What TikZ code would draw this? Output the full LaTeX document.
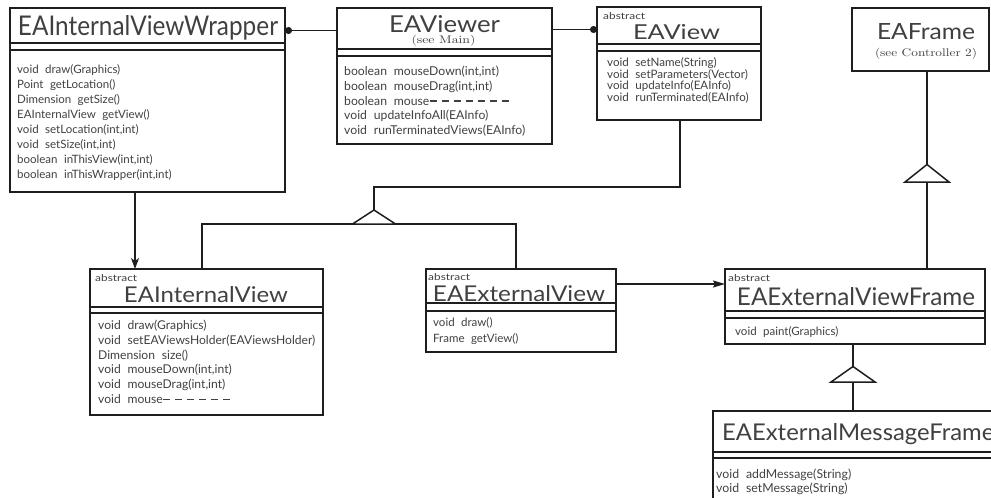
\documentclass[tikz,border=0pt]{standalone}
\usepackage{fontspec}
\newfontfamily\umlfont{Lato}[WordSpace=2.2]
\usetikzlibrary{arrows.meta,calc}
\definecolor{ink}{HTML}{1E1E1E}
\definecolor{txt}{HTML}{404040}
\newcommand\fitto[3]{\resizebox{#1pt}{#2pt}{#3}}
% two horizontal rules that split a class box into its compartments
\newcommand\compartments[3]{%
  \draw[rule] ([yshift=-#2pt]#1.north west) -- ([yshift=-#2pt]#1.north east);
  \draw[rule] ([yshift=-#3pt]#1.north west) -- ([yshift=-#3pt]#1.north east);}
% hollow generalisation triangle: apex name, half width, height
\newcommand\gentri[3]{%
  \draw[link, fill=white, line join=miter] (#1) -- ($(#1)+(-#2,#3)$) -- ($(#1)+(#2,#3)$) -- cycle;}
\tikzset{
  classbox/.style={draw=ink, line width=1.5pt, anchor=north west, inner sep=0pt, outer sep=0pt},
  rule/.style={draw=ink, line width=1.3pt},
  link/.style={draw=ink, line width=1.5pt},
  umltitle/.style={anchor=base, inner sep=0pt, text=txt, font=\umlfont},
  stereo/.style={anchor=base west, inner sep=0pt, text=txt, font=\umlfont},
  meth/.style={anchor=base west, inner sep=0pt, text=txt, font=\umlfont\fontsize{#1}{12}\selectfont},
  meth/.default=11.5,
  seenote/.style={anchor=base, inner sep=0pt, text=txt, font=\rmfamily},
  elided/.style={draw=txt, line width=1.5pt, dash pattern=on 7pt off 5pt},
  assoc/.style={link, -{Stealth[length=11pt, width=8pt, inset=3pt]}},
}
\begin{document}
\begin{tikzpicture}[x=1pt, y=-1pt]
\useasboundingbox (0,0) rectangle (991,498);
\clip (0,0) rectangle (991,498);

% ---- EAInternalViewWrapper
\node[classbox, minimum width=275pt, minimum height=184pt] (wrap) at (10,8) {};
\compartments{wrap}{35}{42}
\node[umltitle] (wrapT) at (148,35) {\fitto{260}{20}{EAInternalViewWrapper}};
\foreach \m [count=\i from 0] in {{void draw(Graphics)},{Point getLocation()},{Dimension getSize()},
  {EAInternalView getView()},{void setLocation(int,int)},{void setSize(int,int)},
  {boolean inThisView(int,int)},{boolean inThisWrapper(int,int)}}
  \node[meth=11.5] (wrapM\i) at (17,73.5+15*\i) {\m};

% ---- EAViewer
\node[classbox, minimum width=215pt, minimum height=136pt] (vwr) at (337,8) {};
\compartments{vwr}{41}{48}
\node[umltitle] (vwrT) at (444.5,32) {\fitto{111}{17}{EAViewer}};
\node[seenote] (vwrS) at (443.5,43) {\fitto{64}{8.3}{(see Main)}};
\foreach \m [count=\i from 0] in {{boolean mouseDown(int,int)},{boolean mouseDrag(int,int)},
  {boolean mouse},{void updateInfoAll(EAInfo)},{void runTerminatedViews(EAInfo)}}
  \node[meth=12.2] (vwrM\i) at (344,75.5+14.75*\i) {\m};
\draw[elided] ([yshift=4pt]vwrM2.base east) -- +(81,0);

% ---- EAView
\node[classbox, minimum width=164pt, minimum height=113pt] (view) at (597,7) {};
\compartments{view}{37}{44}
\node[stereo] (viewA) at (603,19) {\fitto{42}{7}{abstract}};
\node[umltitle] (viewT) at (676.5,39) {\fitto{87}{15}{EAView}};
\foreach \m [count=\i from 0] in {{void setName(String)},{void setParameters(Vector)},
  {void updateInfo(EAInfo)},{void runTerminated(EAInfo)}}
  \node[meth=11.6] (viewM\i) at (607,66.8+11.5*\i) {\m};

% ---- EAFrame
\node[classbox, minimum width=137pt, minimum height=63pt] (frame) at (852,8) {};
\node[umltitle] (frameT) at (926,39) {\fitto{98}{16}{EAFrame}};
\node[seenote] (frameS) at (926,56) {\fitto{102}{8.3}{(see Controller 2)}};

% ---- EAInternalView
\node[classbox, minimum width=233pt, minimum height=146pt] (iview) at (90,269) {};
\compartments{iview}{38}{44}
\node[stereo] (iviewA) at (95,281) {\fitto{42}{7}{abstract}};
\node[umltitle] (iviewT) at (206,302) {\fitto{164}{16}{EAInternalView}};
\foreach \m [count=\i from 0] in {{void draw(Graphics)},{void setEAViewsHolder(EAViewsHolder)},
  {Dimension size()},{void mouseDown(int,int)},{void mouseDrag(int,int)},{void mouse}}
  \node[meth=12.1] (iviewM\i) at (98,329.5+14.8*\i) {\m};
\draw[elided] ([yshift=4pt]iviewM5.base east) -- +(71,0);

% ---- EAExternalView
\node[classbox, minimum width=190pt, minimum height=83pt] (xview) at (426,269) {};
\compartments{xview}{34}{42}
\node[stereo] (xviewA) at (428,280) {\fitto{42}{7}{abstract}};
\node[umltitle] (xviewT) at (519,301) {\fitto{172}{16}{EAExternalView}};
\foreach \m [count=\i from 0] in {{void draw()},{Frame getView()}}
  \node[meth=11.5] (xviewM\i) at (433,326.5+16*\i) {\m};

% ---- EAExternalViewFrame
\node[classbox, minimum width=260pt, minimum height=75pt] (xframe) at (725,269) {};
\compartments{xframe}{42}{49}
\node[stereo] (xframeA) at (728,281.7) {\fitto{42}{7}{abstract}};
\node[umltitle] (xframeT) at (856,305) {\fitto{238}{18}{EAExternalViewFrame}};
\node[meth=11.5] (xframeM0) at (735,335.5) {void paint(Graphics)};

% ---- EAExternalMessageFrame
\node[classbox, minimum width=320pt, minimum height=120pt] (msg) at (713,411) {};
\compartments{msg}{41}{47}
\node[umltitle, anchor=base west] (msgT) at (722,440) {\fitto{272}{17}{EAExternalMessageFrame}};
\foreach \m [count=\i from 0] in {{void addMessage(String)},{void setMessage(String)}}
  \node[meth=12.3] (msgM\i) at (716,478.5+14*\i) {\m};

% ---- connectors
\draw[link, {Circle[length=7pt]}-] (wrap.east |- 0,30.5) -- (vwr.west |- 0,30.5);
\draw[link, -{Circle[length=7pt]}] (vwr.east |- 0,29.5) -- (view.west |- 0,29.5);
\draw[assoc] (wrap.south -| 135,0) -- (iview.north -| 135,0);
\draw[link, -{Stealth[length=12pt, width=7pt, inset=2pt]}] (xview.east |- 0,284) -- (xframe.west |- 0,284);

% EAInternalView and EAExternalView specialise EAView
\coordinate (genV) at (374,210);
\coordinate (genVb) at (374,224);
\draw[link] (view.south -| 680,0) |- (374,187) -- (genV);
\draw[link] (iview.north -| 202,0) |- (genVb) -| (xview.north -| 516,0);
\gentri{genV}{21.5}{14}

% EAExternalViewFrame specialises EAFrame
\coordinate (genF) at (927,164.5);
\draw[link] (frame.south -| 927,0) -- (xframe.north -| 927,0);
\gentri{genF}{22}{17.5}

% EAExternalMessageFrame specialises EAExternalViewFrame
\coordinate (genX) at (853,366.5);
\draw[link] (xframe.south -| 853,0) -- (msg.north -| 853,0);
\gentri{genX}{22}{15.5}
\end{tikzpicture}
\end{document}
